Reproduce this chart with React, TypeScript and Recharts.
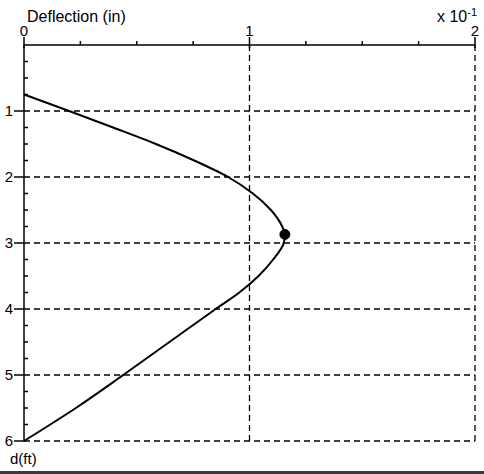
import React from 'react';
import {
  ComposedChart,
  Line,
  XAxis,
  YAxis,
  ReferenceLine,
  ReferenceDot,
} from 'recharts';

// depth below top (ft) and lateral deflection (in, x 10^-1)
const depthFt = [0.75, 1.0, 1.25, 1.5, 1.75, 2.0, 2.25, 2.5, 2.75, 2.87, 3.0, 3.25, 3.5, 3.75, 4.0, 4.5, 5.0, 5.5, 6.0];
const deflection = [0, 0.2, 0.395, 0.585, 0.755, 0.905, 1.015, 1.095, 1.145, 1.157, 1.152, 1.105, 1.04, 0.955, 0.85, 0.645, 0.44, 0.23, 0];

// max deflection marker
const maxPoint = { depth: 2.87, deflection: 1.157 };

const xTicks = [0, 0.25, 0.5, 0.75, 1, 1.25, 1.5, 1.75, 2];
const yTicks = [0.25, 0.5, 0.75, 1, 1.25, 1.5, 1.75, 2, 2.25, 2.5, 2.75, 3, 3.25, 3.5, 3.75, 4, 4.25, 4.5, 4.75, 5, 5.25, 5.5, 5.75, 6];
const xGrid = [1, 2];
const yGrid = [1, 2, 3, 4, 5, 6];

const FONT = '"Liberation Sans", Arial, sans-serif';

const data = depthFt.map((d, i) => ({ d, x: deflection[i] }));

const isMajor = (v: number) => Math.abs(v - Math.round(v)) < 1e-6;

function TopTick({ x, y, payload }: any) {
  const v = payload.value;
  const major = isMajor(v);
  return (
    <g>
      <line x1={x} x2={x} y1={y - (major ? 8 : 4)} y2={y + (major ? 3 : 0)} stroke="#000" strokeWidth={1.5} />
      {major && (
        <text x={x} y={y - 9} textAnchor="middle" fontSize={15} fontFamily={FONT} fill="#000">
          {v}
        </text>
      )}
    </g>
  );
}

function LeftTick({ x, y, payload }: any) {
  const v = payload.value;
  const major = isMajor(v);
  return (
    <g>
      {major ? (
        <line x1={x - 10} x2={x} y1={y} y2={y} stroke="#000" strokeWidth={1.5} />
      ) : (
        <line x1={x} x2={x + 4} y1={y} y2={y} stroke="#000" strokeWidth={1.5} />
      )}
      {major && (
        <text x={x - 11} y={y + 5} textAnchor="end" fontSize={15} fontFamily={FONT} fill="#000">
          {v}
        </text>
      )}
    </g>
  );
}

export default function App() {
  return (
    <div style={{ position: 'absolute', left: 0, top: 0, width: 484, height: 474, background: '#fff', fontFamily: FONT }}>
      <ComposedChart
        layout="vertical"
        width={484}
        height={474}
        data={data}
        margin={{ top: 25, right: 9, bottom: 33, left: 0 }}
      >
        <XAxis
          type="number"
          orientation="top"
          domain={[0, 2]}
          ticks={xTicks}
          interval={0}
          height={20}
          tickSize={0}
          tickMargin={0}
          tickLine={false}
          axisLine={{ stroke: '#000', strokeWidth: 1.5 }}
          tick={<TopTick />}
        />
        <YAxis
          type="number"
          dataKey="d"
          domain={[0, 6]}
          ticks={yTicks}
          interval={0}
          width={24}
          tickSize={0}
          tickMargin={0}
          tickLine={false}
          axisLine={{ stroke: '#000', strokeWidth: 1.5 }}
          tick={<LeftTick />}
        />
        {xGrid.map((v) => (
          <ReferenceLine key={'x' + v} x={v} stroke="#000" strokeWidth={1.3} strokeDasharray="6 4" />
        ))}
        {yGrid.map((v) => (
          <ReferenceLine key={'y' + v} y={v} stroke="#000" strokeWidth={1.3} strokeDasharray="6 4" />
        ))}
        <Line
          dataKey="x"
          type="monotone"
          stroke="#000"
          strokeWidth={2}
          dot={false}
          activeDot={false}
          isAnimationActive={false}
        />
        <ReferenceDot x={maxPoint.deflection} y={maxPoint.depth} r={5} fill="#000" stroke="#000" />
      </ComposedChart>
      <div style={{ position: 'absolute', left: 27, top: 9, fontSize: 16, lineHeight: '15px', whiteSpace: 'nowrap' }}>
        Deflection (in)
      </div>
      <div style={{ position: 'absolute', left: 437, top: 9, fontSize: 16, lineHeight: '15px', whiteSpace: 'nowrap' }}>
        x 10<sup style={{ fontSize: 11, verticalAlign: 6, lineHeight: 0 }}>-1</sup>
      </div>
      <div style={{ position: 'absolute', left: 10, top: 451, fontSize: 15, lineHeight: '15px', whiteSpace: 'nowrap' }}>
        d(ft)
      </div>
      <div style={{ position: 'absolute', left: 0, top: 471, width: 484, height: 3, background: '#3a3a3a' }} />
    </div>
  );
}
